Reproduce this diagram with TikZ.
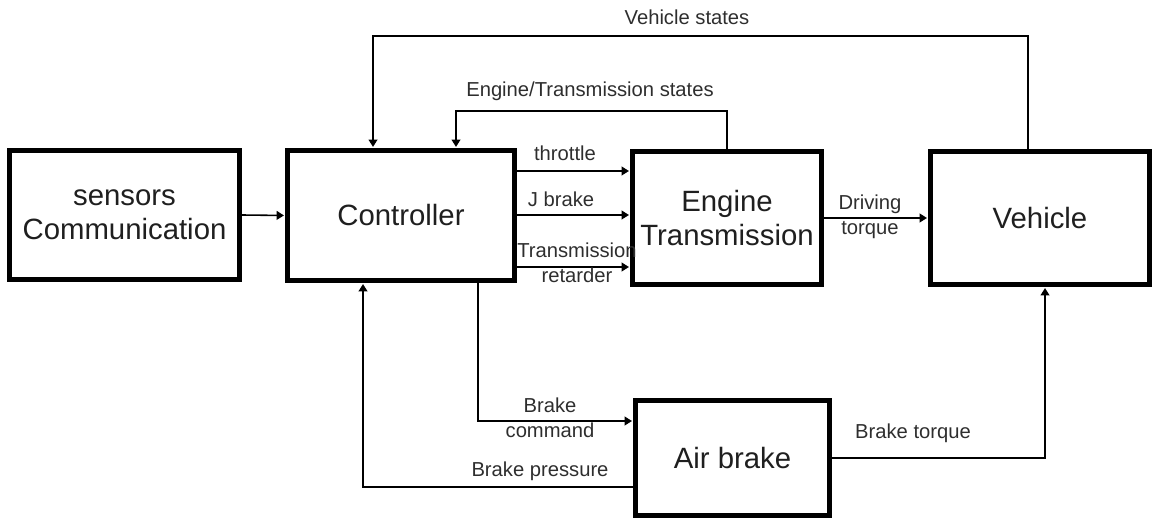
\documentclass[tikz,border=0pt]{standalone}
\usepackage{fontspec}
\setmainfont{Liberation Sans}
\usepackage{tikz}
\usetikzlibrary{arrows.meta,positioning}

\begin{document}
\begin{tikzpicture}[
  x=0.02cm, y=-0.02cm,
  blk/.style={draw, line width=2.85pt, inner sep=0pt, align=center, font=\fontsize{16.7}{19.6}\selectfont, text=black!88},
  arr/.style={-{Triangle[length=4.2pt,width=5pt]}, line width=0.9pt, shorten >=0.6pt},
  lbl/.style={align=center, inner sep=0pt, font=\fontsize{11.5}{14.4}\selectfont, text=black!82},
]
\useasboundingbox (0,0) rectangle (1152,519);

% ─── Blocks ───
\node[blk, minimum width=4.6cm,  minimum height=2.58cm] (sens) at (124.5,215) {sensors\\Communication};
\node[blk, minimum width=4.54cm, minimum height=2.6cm]  (ctrl) at (401,215.5) {Controller};
\node[blk, minimum width=3.78cm, minimum height=2.66cm] (eng)  at (727,218)   {Engine\\Transmission};
\node[blk, minimum width=4.38cm, minimum height=2.66cm] (veh)  at (1040,218)  {Vehicle};
\node[blk, minimum width=3.88cm, minimum height=2.3cm]  (air)  at (732.5,458) {Air brake};

% ─── Forward path ───
\draw[arr] (sens.east) -- (ctrl.west);
\draw[arr] (ctrl.east |- 0,171) -- (eng.west |- 0,171);
\draw[arr] (ctrl.east |- 0,215) -- (eng.west |- 0,215);
\draw[arr] (ctrl.east |- 0,267) -- (eng.west |- 0,267);
\draw[arr] (eng.east) -- (veh.west);

\node[lbl] (thr) at (565,153) {throttle};
\node[lbl] (jbr) at (561,199) {J brake};
\node[lbl] (ret) at (577,263) {Transmission\\retarder};
\node[lbl] (drv) at (870,217) {Driving\\torque};

% ─── Feedback of states ───
\draw[arr] (1028,0 |- veh.north) |- (373,36) -- (373,0 |- ctrl.north);
\draw[arr] (eng.north) |- (456,111) -- (456,0 |- ctrl.north);
\node[lbl] (vst) at (687,17) {Vehicle states};
\node[lbl] (est) at (590,91) {Engine/Transmission states};

% ─── Air brake loop ───
\draw[arr] (478,0 |- ctrl.south) |- (air.west |- 0,421);
\draw[arr] (air.west |- 0,487) -| (363,0 |- ctrl.south);
\draw[arr] (air.east) -| (1045,0 |- veh.south);
\node[lbl] (bcm) at (550,418) {Brake\\command};
\node[lbl] (bpr) at (540,471) {Brake pressure};
\node[lbl] (btq) at (913,433) {Brake torque};

\end{tikzpicture}
\end{document}
